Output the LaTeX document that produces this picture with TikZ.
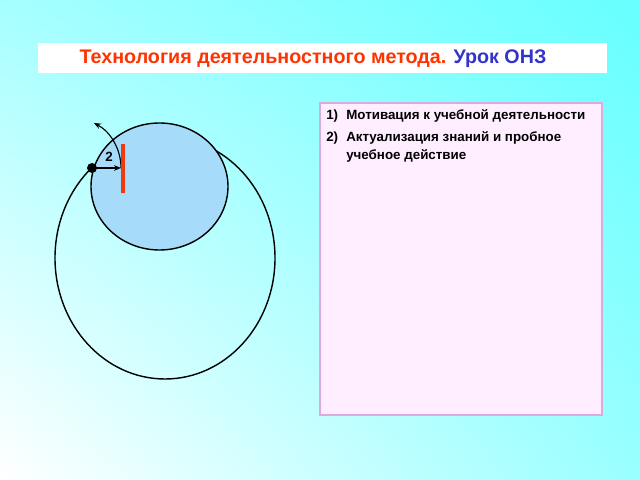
\documentclass[tikz,border=0pt]{standalone}
\usepackage{fontspec}
\setmainfont{Liberation Sans}
\usetikzlibrary{arrows.meta,shadings}
\definecolor{bgTL}{HTML}{A6FFFF}
\definecolor{bgTR}{HTML}{66FFFF}
\definecolor{bgBL}{HTML}{FFFFFF}
\definecolor{bgBR}{HTML}{99FFFF}
\definecolor{titlered}{HTML}{FF3300}
\definecolor{titleblue}{HTML}{3333CC}
\definecolor{pinkfill}{HTML}{FFEEFF}
\definecolor{pinkdraw}{HTML}{DDAADD}
\definecolor{bluefill}{HTML}{A6DCFA}
\definecolor{barred}{HTML}{EE3A0E}
\tikzset{
  itemtext/.style={anchor=base west, inner sep=0pt, font=\bfseries\fontsize{9.5pt}{11pt}\selectfont},
  curve/.style={line width=1pt, black},
  arrowline/.style={line width=0.8pt, black, -{Stealth[length=5pt,width=4pt]}},
}
\begin{document}
\begin{tikzpicture}[x=0.025cm,y=0.025cm]
\useasboundingbox (0,0) rectangle (640,480);
\shade[upper left=bgTL, upper right=bgTR, lower left=bgBL, lower right=bgBR] (0,0) rectangle (640,480);
% title
\fill[white] (38,407) rectangle (607,437);
\node[inner sep=0pt, font=\bfseries\fontsize{14pt}{16pt}\selectfont] (title) at (313,421)
  {\textcolor{titlered}{Технология деятельностного метода.} \textcolor{titleblue}{Урок ОНЗ}};
% right box
\draw[fill=pinkfill, draw=pinkdraw, line width=0.8pt] (320,65) rectangle (602,377);
\node[itemtext] (n1) at (326,360) {1)};
\node[itemtext] (t1) at (346,360) {Мотивация к учебной деятельности};
\node[itemtext] (n2) at (326,338) {2)};
\node[itemtext] (t2) at (346,338) {Актуализация знаний и пробное};
\node[itemtext] (t3) at (346,320) {учебное действие};
% circles
\draw[curve] (165,222) ellipse[x radius=110, y radius=121];
\draw[curve, fill=bluefill] (159.5,293.5) ellipse[x radius=68.5, y radius=63.5];
% dot and arrows
\coordinate (dot) at (92,312);
\coordinate (tip) at (121,312);
\fill (dot) circle[radius=5];
\draw[arrowline] (dot) -- (tip);
\draw[arrowline] (tip) arc[start angle=0, end angle=62, radius=51];
\draw[barred, line width=2.6pt] (123,336) -- (123,287);
\node[inner sep=0pt, font=\bfseries\fontsize{9.5pt}{11pt}\selectfont] (two) at (109,323) {2};
\end{tikzpicture}
\end{document}
